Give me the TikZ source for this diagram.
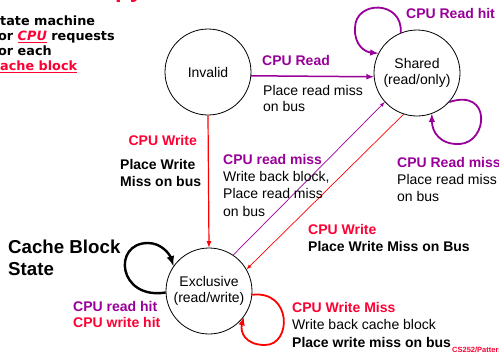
\documentclass[tikz,border=0pt]{standalone}
\usepackage{fontspec}
\setmainfont{Liberation Sans}
\newfontfamily\notefont{DejaVu Sans}
\usepackage{tikz}
\usetikzlibrary{%
arrows,%
arrows.meta,%
calc}

\definecolor{cpupurple}{RGB}{153,0,153}
\definecolor{cpured}{RGB}{255,0,51}
\tikzset{
  cachestate/.style={circle,draw,line width=0.8pt,minimum size=86pt,inner sep=0pt,
    align=center,font=\fontsize{14}{16.5}\selectfont},
  lbl/.style={anchor=north west,inner sep=0pt,align=left,font=\fontsize{14}{16.5}\selectfont},
  lblb/.style={lbl,font=\bfseries\fontsize{14}{16.5}\selectfont},
}

\begin{document}
\begin{tikzpicture}[x=1pt,y=-1pt]
\useasboundingbox (0,0) rectangle (499,354);

\node[anchor=base west,inner sep=0pt,text=cpured,font=\bfseries\fontsize{24}{28}\selectfont] (title) at (55,-3) {Snoopy-Cache State Machine-I};
\node[anchor=north west,inner sep=0pt,align=left,font=\notefont\bfseries\fontsize{12.8}{15}\selectfont] (note) at (-7.6,15.5)
  {state machine\\for {\color{cpured}\underline{\textit{CPU}}} requests\\for each\\{\color{cpured}\underline{cache block}}};

\node[cachestate] (inv) at (208,72) {Invalid};
\node[cachestate] (shr) at (417,73) {Shared\\(read/only)};
\node[cachestate] (exc) at (209,291) {Exclusive\\(read/write)};

\begin{scope}[cpupurple]
    \draw[line width=1.5pt,-latex] (inv.-5) -- (shr.185);
    \draw[line width=0.7pt,-latex] (exc.56) -- (shr.222);
    \draw[line width=1.8pt,-latex] (shr.112) .. controls (403,0) and (355,0) .. (355,28)
        .. controls (354,45) and (365,52) .. (shr.153);
    \draw[line width=1.8pt,-latex] (shr.-42) .. controls (492,88) and (488,142) .. (460,144)
        .. controls (440,145) and (432,132) .. (shr.-70);
\end{scope}
\begin{scope}[red]
    \draw[line width=1.2pt,-latex] (inv.south) -- (exc.north);
    \draw[line width=0.7pt,-latex] (shr.252) -- (exc.30);
    \draw[line width=1.8pt,-latex] (exc.-5) .. controls (292,290) and (292,345) .. (265,345)
        .. controls (245,345) and (240,332) .. (exc.-37);
\end{scope}
\draw[line width=2.4pt,-latex] (exc.182) .. controls (118,300) and (112,243) .. (148,243)
    .. controls (162,243) and (170,255) .. (exc.145);

\node[lblb,text=cpupurple] (rdhit) at (406,8) {CPU Read hit};
\node[lblb,text=cpupurple] (rdlbl) at (262,55) {CPU Read};
\node[lbl] (rdtxt) at (263,85) {Place read miss\\on bus};
\node[lblb,text=cpured,anchor=north east] (wrlbl) at (197,135) {CPU Write};
\node[lblb,font=\bfseries\fontsize{14}{17}\selectfont] (wrtxt) at (120,159) {Place Write\\Miss on bus};
\node[lbl,font=\fontsize{14}{17.3}\selectfont] (rdmiss) at (223,154)
  {{\color{cpupurple}\bfseries CPU read miss}\\Write back block,\\Place read miss\\on bus};
\node[lbl,font=\fontsize{14}{17}\selectfont] (shrmiss) at (397,157)
  {{\color{cpupurple}\bfseries CPU Read miss}\\Place read miss\\on bus};
\node[lblb,font=\bfseries\fontsize{14}{17}\selectfont] (wrshr) at (308,224)
  {{\color{cpured}CPU Write}\\Place Write Miss on Bus};
\node[lblb,font=\bfseries\fontsize{18.7}{22}\selectfont] (cbs) at (8,239.5) {Cache Block\\State};
\node[lblb,font=\bfseries\fontsize{14}{16}\selectfont] (hit) at (73,301)
  {{\color{cpupurple}CPU read hit}\\{\color{cpured}CPU write hit}};
\node[lbl,font=\fontsize{14}{17.5}\selectfont] (wrmiss) at (292,302)
  {{\color{cpured}\bfseries CPU Write Miss}\\Write back cache block\\{\bfseries Place write miss on bus}};
\node[anchor=west,inner sep=0pt,text=cpured,font=\bfseries\fontsize{7.5}{9}\selectfont] (src) at (452,350) {CS252/Patterson};

\end{tikzpicture}
\end{document}
